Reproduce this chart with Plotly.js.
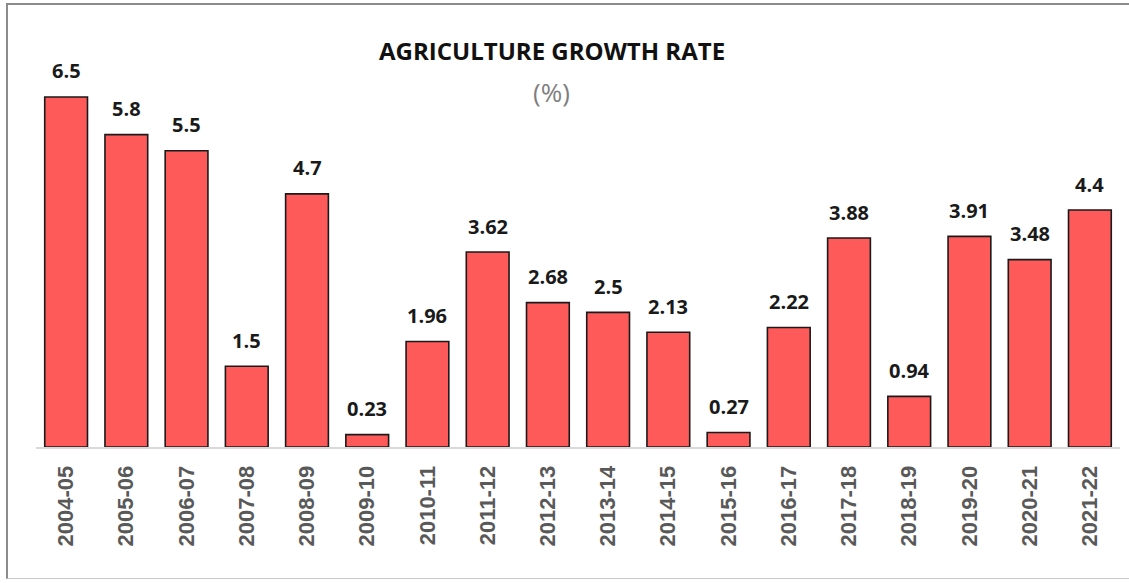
<!DOCTYPE html>
<html>
<head>
<meta charset="utf-8">
<script src="https://cdn.plot.ly/plotly-3.0.1.min.js"></script>
<style>
html,body{margin:0;padding:0;background:#fff;}
#wrap{position:relative;width:1129px;height:583px;}
#chart{width:1129px;height:583px;}
#frame{position:absolute;left:6px;top:3px;width:1130px;height:576px;border-top:2px solid #8c8c8c;border-left:2px solid #8c8c8c;border-bottom:1px solid #c8c8c8;pointer-events:none;box-sizing:border-box;}
</style>
</head>
<body>
<div id="wrap"><div id="chart"></div><div id="frame"></div></div>
<script>
const years = ["2004-05","2005-06","2006-07","2007-08","2008-09","2009-10","2010-11","2011-12","2012-13","2013-14","2014-15","2015-16","2016-17","2017-18","2018-19","2019-20","2020-21","2021-22"];
const growth = [6.5,5.8,5.5,1.5,4.7,0.23,1.96,3.62,2.68,2.5,2.13,0.27,2.22,3.88,0.94,3.91,3.48,4.4];
const labels = ["6.5","5.8","5.5","1.5","4.7","0.23","1.96","3.62","2.68","2.5","2.13","0.27","2.22","3.88","0.94","3.91","3.48","4.4"];

const trace = {
  type: "bar",
  x: years,
  y: growth,
  marker: {color: "#FF5A5A", line: {color: "#1a1a1a", width: 1.6}},
  hoverinfo: "x+y"
};

const annotations = years.map((c, i) => ({
  x: c, y: growth[i], xref: "x", yref: "y",
  text: "<b>" + labels[i] + "</b>", showarrow: false, yanchor: "middle", yshift: 26,
  font: {family: "Open Sans", size: 20, color: "#1a1a1a"}
}));
annotations.push({
  xref: "paper", yref: "paper", x: 0.476, y: 1.0, yanchor: "middle", yshift: -22,
  text: "(%)", showarrow: false,
  font: {family: "Open Sans", size: 26, color: "#7f7f7f"}
});

const layout = {
  width: 1129, height: 583,
  margin: {l: 36, r: 9, t: 70, b: 136},
  paper_bgcolor: "#ffffff", plot_bgcolor: "#ffffff",
  title: {
    text: "<b>AGRICULTURE GROWTH RATE</b>",
    x: 0.489, xanchor: "center", y: 0.911, yanchor: "middle",
    font: {family: "Open Sans", size: 24, color: "#111111"}
  },
  bargap: 0.29,
  xaxis: {
    type: "category", tickangle: -90, showgrid: false,
    showline: true, linecolor: "#d9d9d9", linewidth: 2,
    ticks: "", ticklen: 0, ticklabelstandoff: 8,
    tickfont: {family: "Liberation Sans", size: 22, color: "#595959", weight: 700}
  },
  yaxis: {range: [0, 7], visible: false, showgrid: false, zeroline: false},
  annotations: annotations,
  showlegend: false
};

Plotly.newPlot("chart", [trace], layout, {displayModeBar: false, staticPlot: true});
</script>
</body>
</html>
